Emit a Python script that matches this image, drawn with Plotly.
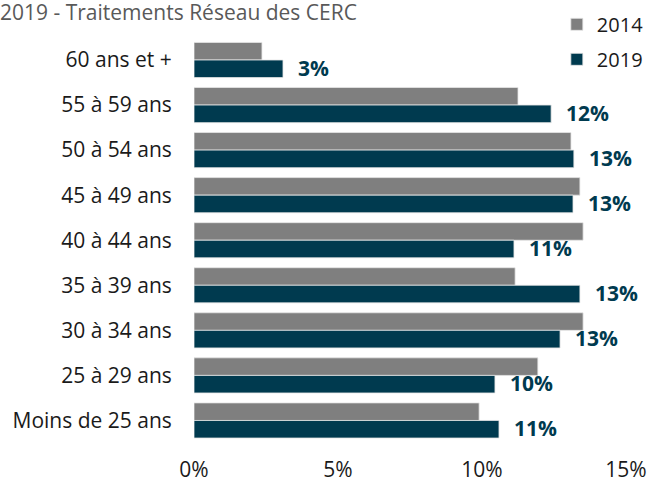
import plotly.graph_objects as go

# Tranches d'âge (de haut en bas)
categories = ["60 ans et +", "55 à 59 ans", "50 à 54 ans", "45 à 49 ans", "40 à 44 ans",
              "35 à 39 ans", "30 à 34 ans", "25 à 29 ans", "Moins de 25 ans"]

# Parts en %
values_2014 = [2.36, 11.25, 13.09, 13.40, 13.51, 11.15, 13.51, 11.94, 9.90]
values_2019 = [3.09, 12.40, 13.19, 13.16, 11.11, 13.40, 12.71, 10.45, 10.59]

x_ticks = [0, 5, 10, 15]
x_tick_labels = ["0%", "5%", "10%", "15%"]

FONT = "Open Sans"
GRAY = "#7f7f7f"
DARK = "#003a4f"
TXT = "#1a1a1a"

fig = go.Figure()

fig.add_trace(go.Bar(
    y=categories, x=values_2014, orientation="h", name="2014",
    marker=dict(color=GRAY, line=dict(color="#e6e6e6", width=0.8)),
    legendgroup="a", hoverinfo="x+y"
))
fig.add_trace(go.Bar(
    y=categories, x=values_2019, orientation="h", name="2019",
    marker=dict(color=DARK, line=dict(color="#e6e6e6", width=0.8)),
    legendgroup="b", hoverinfo="x+y"
))

# Étiquettes des valeurs 2019
for cat, v in zip(categories, values_2019):
    fig.add_annotation(
        x=v, y=cat, xref="x", yref="y",
        text=f"<b>{round(v)}%</b>", showarrow=False,
        xanchor="left", yanchor="middle", xshift=13, yshift=-8,
        font=dict(family=FONT, size=21, color=DARK)
    )

fig.update_layout(
    width=649, height=482,
    margin=dict(l=194, r=23, t=36, b=39, autoexpand=False),
    paper_bgcolor="white", plot_bgcolor="white",
    barmode="group", bargap=0.22, bargroupgap=0,
    font=dict(family=FONT, size=21, color=TXT),
    # titre coupé à gauche comme dans l'original
    title=dict(text="2019 - Traitements Réseau des CERC",
               xref="container", yref="container", x=0, xanchor="left",
               y=0.99, yanchor="top", pad=dict(t=0, l=0, b=0, r=0),
               font=dict(family=FONT, size=21, color="#595959")),
    showlegend=True,
    legend=dict(xref="container", yref="container",
                x=0.858, xanchor="left", y=0.99, yanchor="top",
                font=dict(family=FONT, size=20, color=TXT),
                tracegroupgap=6, bgcolor="rgba(0,0,0,0)"),
    xaxis=dict(range=[0, 15], tickvals=x_ticks, ticktext=x_tick_labels,
               showgrid=False, zeroline=False, showline=False, automargin=False,
               ticks="outside", ticklen=8, tickcolor="rgba(0,0,0,0)",
               tickfont=dict(family=FONT, size=21, color=TXT)),
    yaxis=dict(autorange="reversed", showgrid=False, zeroline=False, showline=False,
               automargin=False,
               ticks="outside", ticklen=17, tickcolor="rgba(0,0,0,0)",
               tickfont=dict(family=FONT, size=21, color=TXT)),
)

# pas de marge de page autour du graphique, pas de barre d'outils
fig.write_html("out.html", config={"displayModeBar": False},
               post_script="document.body.style.margin='0';")
